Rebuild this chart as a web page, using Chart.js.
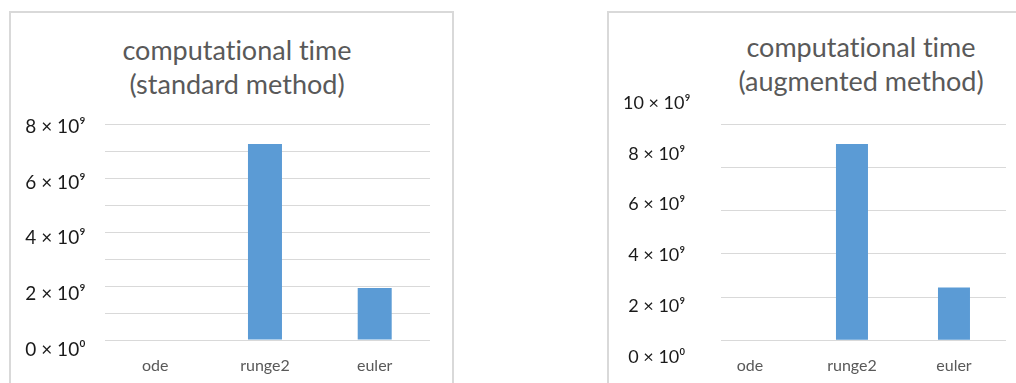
<!DOCTYPE html>
<html>
<head>
<meta charset="utf-8">
<script src="https://cdn.jsdelivr.net/npm/chart.js@4/dist/chart.umd.min.js"></script>
<style>
  html, body { margin: 0; padding: 0; background: #ffffff; }
  body { width: 1016px; height: 383px; position: relative; overflow: hidden; font-family: Lato, "Open Sans", sans-serif; }
  .frame { position: absolute; box-sizing: border-box; border: 0 solid #d9d9d9; }
  #frameStd { left: 9px; top: 11px; width: 445px; height: 372px; border-width: 2px 2px 0 2px; }
  #frameAug { left: 607px; top: 11px; width: 409px; height: 372px; border-width: 2px 0 0 2px; }
  .title { position: absolute; color: #595959; font-size: 27px; line-height: 34px; text-align: center; white-space: nowrap;
           transform: translateX(-50%); font-variant-ligatures: none; font-feature-settings: "liga" 0, "dlig" 0; }
  canvas { position: absolute; left: 0; top: 0; }
</style>
</head>
<body>
<div class="frame" id="frameStd"></div>
<div class="frame" id="frameAug"></div>
<div class="title" style="left:237px; top:33px;">computational time<br>(standard method)</div>
<div class="title" style="left:861px; top:30px;">computational time<br>(augmented method)</div>
<canvas id="chartStd" width="1016" height="383"></canvas>
<canvas id="chartAug" width="1016" height="383"></canvas>
<script>
// Run times of the three solvers, in CPU cycles
const categories = ['ode', 'runge2', 'euler'];
const standardTimes = [0, 7.26e9, 1.93e9];
const augmentedTimes = [0, 9.09e9, 2.44e9];

// Value axis: gridlines and labelled ticks
const standardGridValues = [0, 1e9, 2e9, 3e9, 4e9, 5e9, 6e9, 7e9, 8e9];
const standardTickValues = [0, 2e9, 4e9, 6e9, 8e9];
const standardTickLabels = ['0 × 10⁰', '2 × 10⁹', '4 × 10⁹', '6 × 10⁹', '8 × 10⁹'];
const augmentedGridValues = [0, 2e9, 4e9, 6e9, 8e9, 10e9];
const augmentedTickValues = [0, 2e9, 4e9, 6e9, 8e9, 10e9];
const augmentedTickLabels = ['0 × 10⁰', '2 × 10⁹', '4 × 10⁹', '6 × 10⁹', '8 × 10⁹', '10 × 10⁹'];

const BAR_COLOR = '#5b9bd5';
const GRID_COLOR = '#d9d9d9';
const FONT = 'Lato, "Open Sans", sans-serif';

function setTicks(values) {
  return axis => { axis.ticks = values.map(v => ({ value: v })); };
}

// Fix an axis box to a given size and keep its label overhang out of the layout
function fixBox(prop, size) {
  return axis => {
    axis[prop] = size;
    axis.paddingTop = 0; axis.paddingBottom = 0;
    axis.paddingLeft = 0; axis.paddingRight = 0;
  };
}

function buildChart(canvasId, s) {
  const ctx = document.getElementById(canvasId).getContext('2d');
  return new Chart(ctx, {
    type: 'bar',
    data: {
      datasets: [{
        data: s.values.map((v, i) => ({ x: i, y: v })),
        backgroundColor: BAR_COLOR,
        borderWidth: 0,
        inflateAmount: 0,
        barThickness: s.barThickness
      }]
    },
    options: {
      responsive: false,
      animation: false,
      devicePixelRatio: 1,
      layout: { padding: s.padding },
      plugins: { legend: { display: false }, title: { display: false }, tooltip: { enabled: false } },
      scales: {
        x: {
          type: 'linear',
          offset: false,
          bounds: 'data',
          min: s.xMin, max: s.xMax,
          afterBuildTicks: setTicks([0, 1, 2]),
          afterFit: fixBox('height', s.xAxisHeight),
          grid: { display: false, drawTicks: false, tickLength: 0, offset: false },
          border: { display: false },
          ticks: {
            padding: s.xPad,
            maxRotation: 0,
            autoSkip: false,
            color: '#595959',
            font: { family: FONT, size: 16 },
            callback: v => categories[v]
          }
        },
        y: {
          type: 'linear',
          position: 'right',
          bounds: 'data',
          min: s.gridMin, max: s.gridMax,
          afterBuildTicks: setTicks(s.gridValues),
          afterFit: fixBox('width', 0),
          grid: { color: GRID_COLOR, lineWidth: 1, drawTicks: false, tickLength: 0 },
          border: { display: false },
          ticks: { display: false }
        },
        yl: {
          type: 'linear',
          position: 'left',
          bounds: 'data',
          min: s.labelMin, max: s.labelMax,
          afterBuildTicks: setTicks(s.tickValues),
          afterFit: fixBox('width', s.labelAxisWidth),
          grid: { display: false, drawTicks: false, tickLength: 0 },
          border: { display: false },
          ticks: {
            crossAlign: 'center',
            padding: s.yPad,
            color: '#1a1a1a',
            font: { family: FONT, size: s.yFontSize },
            callback: v => s.tickLabels[s.tickValues.indexOf(v)]
          }
        }
      }
    }
  });
}

buildChart('chartStd', {
  values: standardTimes,
  gridValues: standardGridValues,
  tickValues: standardTickValues,
  tickLabels: standardTickLabels,
  barThickness: 34,
  padding: { left: 15, right: 586, top: 124, bottom: 0 },
  xMin: -0.458, xMax: 2.504,
  xAxisHeight: 31, xPad: 4,
  gridMin: -0.44e9, gridMax: 8e9,
  labelMin: -0.09e9, labelMax: 8.108e9,
  labelAxisWidth: 90, yPad: 19.5, yFontSize: 19
});

buildChart('chartAug', {
  values: augmentedTimes,
  gridValues: augmentedGridValues,
  tickValues: augmentedTickValues,
  tickLabels: augmentedTickLabels,
  barThickness: 32,
  padding: { left: 600, right: 10, top: 95, bottom: 0 },
  xMin: -0.284, xMax: 2.51,
  xAxisHeight: 25, xPad: -2,
  gridMin: -0.819e9, gridMax: 11.356e9,
  labelMin: -0.039e9, labelMax: 10.315e9,
  labelAxisWidth: 121, yPad: 30.5, yFontSize: 18
});
</script>
</body>
</html>
